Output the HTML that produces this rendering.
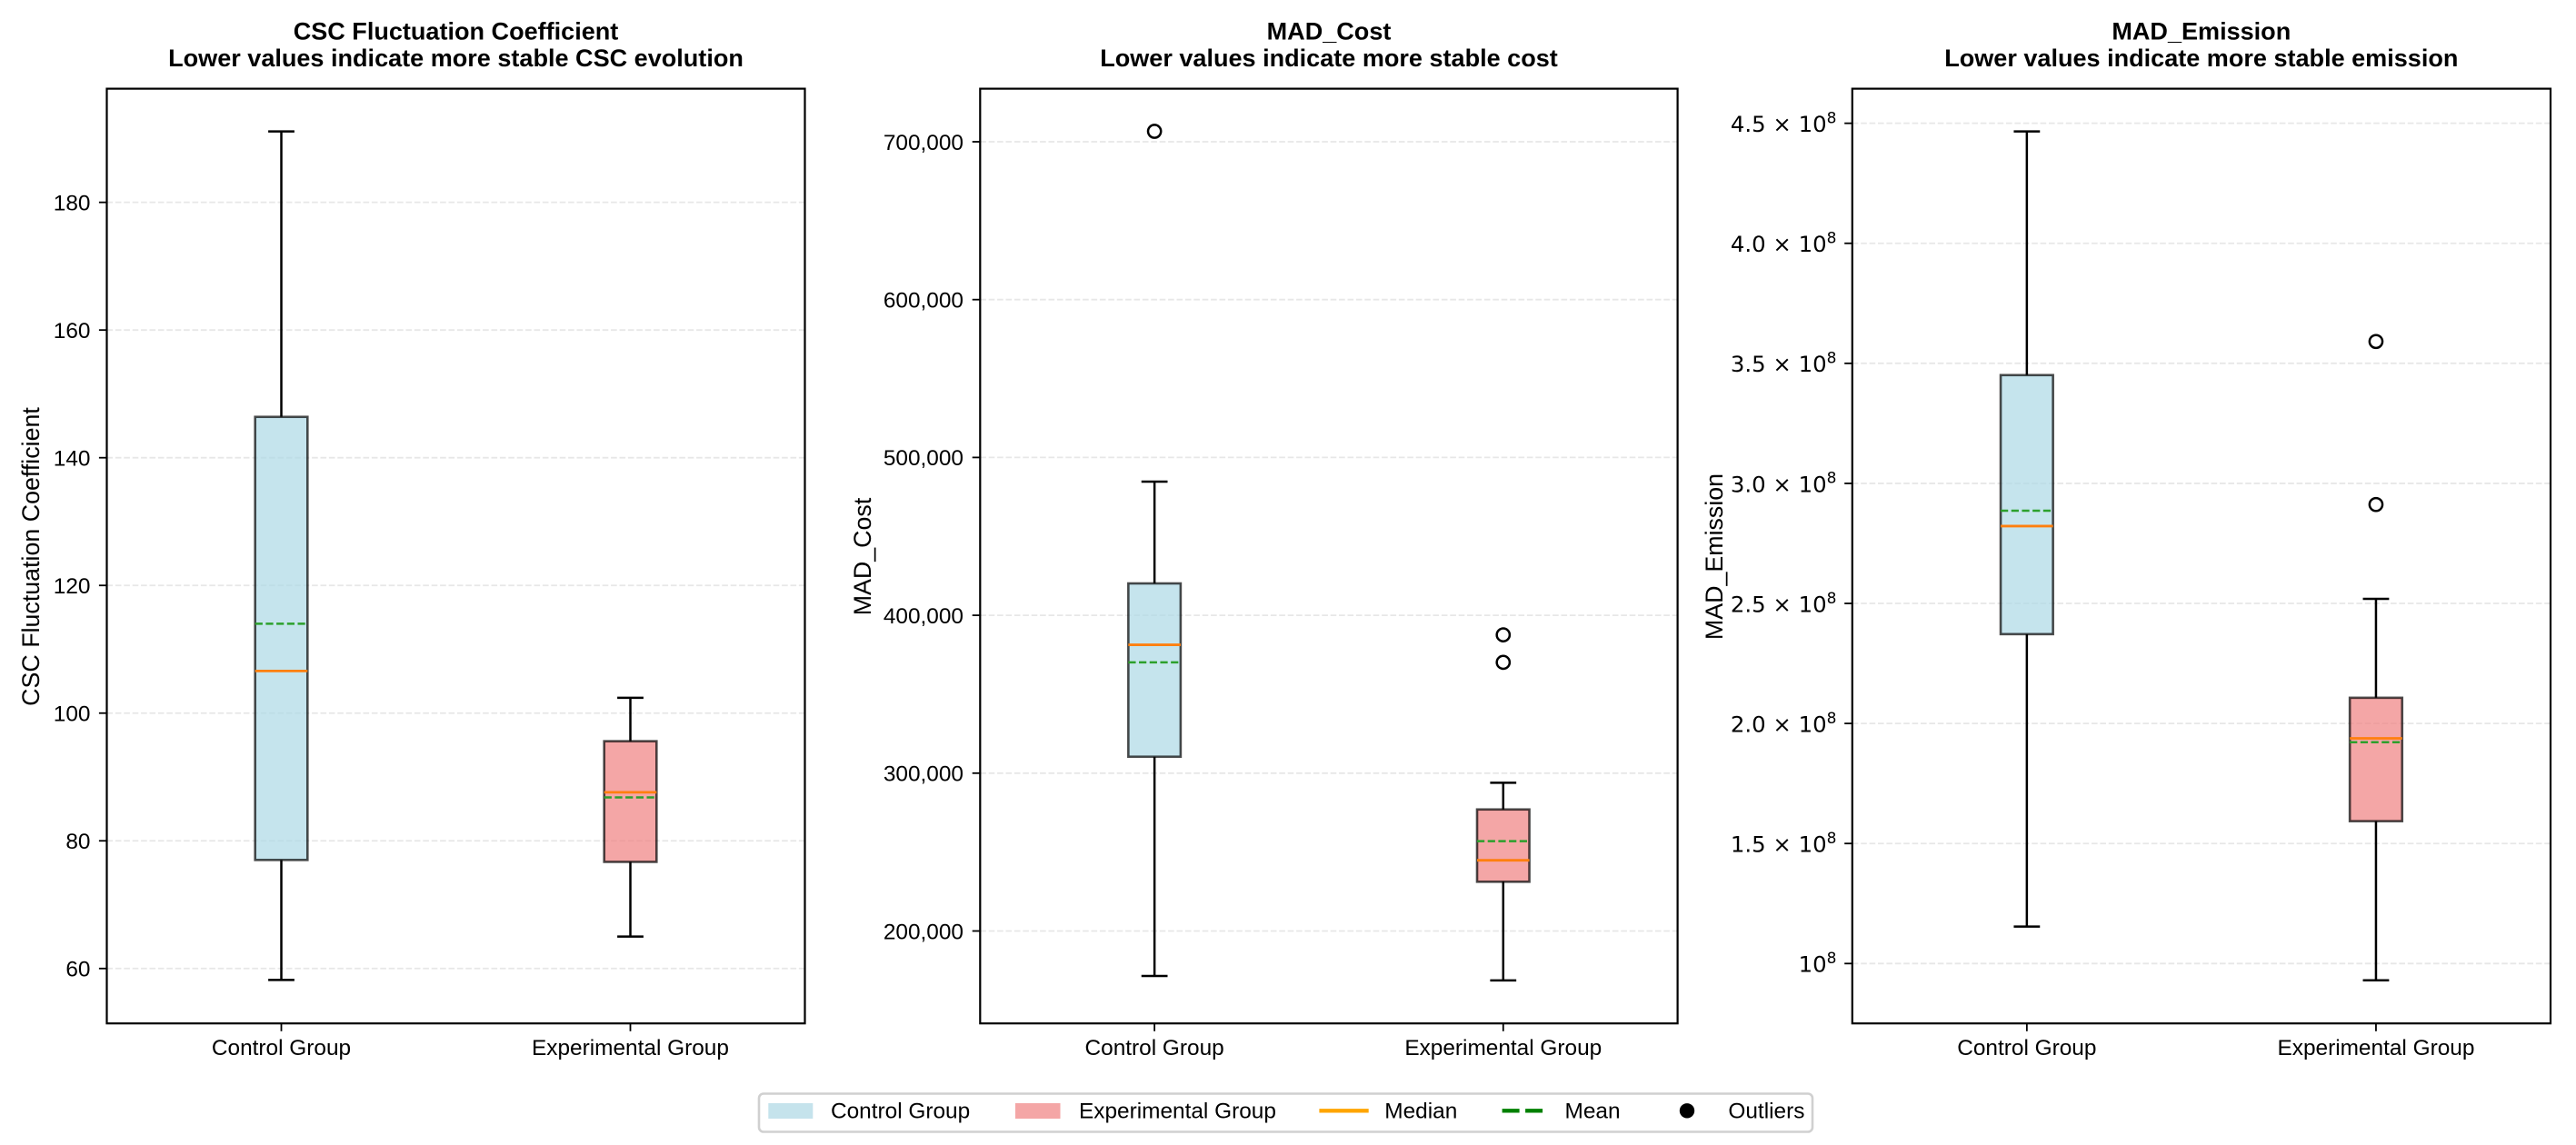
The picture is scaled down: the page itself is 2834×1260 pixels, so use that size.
<!DOCTYPE html>
<html lang="en">
<head>
<meta charset="utf-8">
<title>Stability Comparison: Control vs Experimental Group</title>
<style>
  html, body { margin: 0; padding: 0; background: #fff; }
  body { width: 2834px; height: 1260px; overflow: hidden; }
  svg { display: block; }
  text { font-family: "Liberation Sans", Arial, sans-serif; fill: #000; }
  .title { font-size: 27.05px; font-weight: bold; text-anchor: middle; }
  .ylabel { font-size: 26.8px; text-anchor: middle; }
  .tick { font-size: 24.4px; text-anchor: end; }
  .xtick { font-size: 24.4px; text-anchor: middle; }
  .sci { font-family: "DejaVu Sans", sans-serif; }
  .legend-text { font-size: 24.4px; }
</style>
</head>
<body>
<svg id="figure" width="2834" height="1260" viewBox="0 0 2834 1260" xmlns="http://www.w3.org/2000/svg">
  <rect width="2834" height="1260" fill="#ffffff"/>

  <g id="panel-csc">
    <text class="title" x="501.5" y="43.5">CSC Fluctuation Coefficient</text>
    <text class="title" x="501.5" y="73">Lower values indicate more stable CSC evolution</text>
    <text class="ylabel" transform="translate(43 612.5) rotate(-90)">CSC Fluctuation Coefficient</text>
  </g>
  <g id="panel-cost">
    <text class="title" x="1462" y="43.5">MAD_Cost</text>
    <text class="title" x="1462" y="73">Lower values indicate more stable cost</text>
    <text class="ylabel" transform="translate(958 612.5) rotate(-90)">MAD_Cost</text>
  </g>
  <g id="panel-emission">
    <text class="title" x="2421.8" y="43.5">MAD_Emission</text>
    <text class="title" x="2421.8" y="73">Lower values indicate more stable emission</text>
    <text class="ylabel" transform="translate(1895 612.5) rotate(-90)">MAD_Emission</text>
  </g>

  <g id="legend">
    <rect x="835" y="1203.5" width="1159" height="42" rx="5" ry="5" fill="#ffffff" stroke="#d0d0d0" stroke-width="2.6"/>
    <rect x="845.3" y="1214" width="49" height="17" fill="#c5e3ec"/>
    <text class="legend-text" x="914" y="1230.7">Control Group</text>
    <rect x="1117" y="1214" width="49.5" height="17" fill="#f4a6a6"/>
    <text class="legend-text" x="1187" y="1230.7">Experimental Group</text>
    <line x1="1451.4" x2="1505.7" y1="1222.3" y2="1222.3" stroke="#ffa500" stroke-width="4.4"/>
    <text class="legend-text" x="1523.3" y="1230.7">Median</text>
    <line x1="1652.6" x2="1697.5" y1="1222.3" y2="1222.3" stroke="#008000" stroke-width="4.4" stroke-dasharray="19 6.5"/>
    <text class="legend-text" x="1721.5" y="1230.7">Mean</text>
    <circle cx="1856" cy="1222.3" r="8.2" fill="#000000"/>
    <text class="legend-text" x="1901.4" y="1230.7">Outliers</text>
  </g>
</svg>

<script>
// ---- shared categories ----
const groupNames = ['Control Group', 'Experimental Group'];

// ---- CSC Fluctuation Coefficient ----
const cscTicks = [60, 80, 100, 120, 140, 160, 180];
const cscDomain = [51.4, 197.8];
// five-number summaries: whisker low, Q1, median, Q3, whisker high
const cscControlBox = [58.2, 77.0, 106.6, 146.4, 191.1];
const cscExperimentalBox = [65.0, 76.7, 87.6, 95.6, 102.4];
const cscMeans = [114.0, 86.8];
const cscControlOutliers = [];
const cscExperimentalOutliers = [];

// ---- MAD_Cost ----
const costTicks = [200000, 300000, 400000, 500000, 600000, 700000];
const costDomain = [141450, 733620];
const costControlBox = [171500, 310400, 381300, 420200, 484700];
const costExperimentalBox = [168700, 231200, 244800, 277000, 293900];
const costMeans = [370200, 256900];
const costControlOutliers = [706600];
const costExperimentalOutliers = [370200, 387600];

// ---- MAD_Emission ----
const emissionTicks = [1.0e8, 1.5e8, 2.0e8, 2.5e8, 3.0e8, 3.5e8, 4.0e8, 4.5e8];
const emissionDomain = [0.7506e8, 4.644e8];
const emissionControlBox = [1.154e8, 2.372e8, 2.822e8, 3.451e8, 4.466e8];
const emissionExperimentalBox = [0.930e8, 1.593e8, 1.938e8, 2.107e8, 2.519e8];
const emissionMeans = [2.886e8, 1.922e8];
const emissionControlOutliers = [];
const emissionExperimentalOutliers = [2.912e8, 3.591e8];

const SVG_NS = 'http://www.w3.org/2000/svg';
const PLOT_TOP = 97.6;
const PLOT_BOTTOM = 1126.2;
const BOX_WIDTH_UNITS = 0.15;
const CAP_WIDTH_UNITS = 0.075;

function make(parent, tag, attrs, text) {
  const el = document.createElementNS(SVG_NS, tag);
  for (const k in attrs) el.setAttribute(k, attrs[k]);
  if (text !== undefined) el.textContent = text;
  parent.appendChild(el);
  return el;
}

function plainLabel(v) { return String(v); }
function commaLabel(v) { return v.toLocaleString('en-US'); }

function drawSciLabel(parent, v, right, y) {
  const mant = v / 1e8;
  const t = make(parent, 'text', { class: 'tick sci', x: right, y: y + 9.4 });
  
  
  const prefix = Math.abs(mant - 1) < 1e-9 ? '10' : mant.toFixed(1) + ' \u00d7 10';
  make(t, 'tspan', {}, prefix);
  make(t, 'tspan', { dy: -9.6, 'font-size': 17 }, '8');
}

function drawPanel(panelId, left, right, domain, ticks, labelRight, labelFn, boxes, means, outliers, slug) {
  const root = document.getElementById(panelId);
  const width = right - left;
  const xScale = p => left + (p - 0.5) / 2 * width;
  const yScale = v => PLOT_BOTTOM - (v - domain[0]) / (domain[1] - domain[0]) * (PLOT_BOTTOM - PLOT_TOP);

  // grid lines + y ticks
  ticks.forEach(v => {
    const y = yScale(v);
    const grid = make(root, 'line', { x1: left, x2: right, y1: y, y2: y, stroke: '#e7e7e7', 'stroke-width': 1.8, 'stroke-dasharray': '6.6 2.8' });
    
    
    const tick = make(root, 'line', { x1: left - 8.6, x2: left, y1: y, y2: y, stroke: '#000', 'stroke-width': 1.8 });
    
    
    if (labelFn) {
      const lab = make(root, 'text', { class: 'tick', x: labelRight, y: y + 8.8 }, labelFn(v));
      
      
    } else {
      drawSciLabel(root, v, labelRight, y);
    }
  });

  // one box per group
  groupNames.forEach((name, i) => {
    const pos = i + 1;
    const cx = xScale(pos);
    const s = boxes[i];
    const bw = BOX_WIDTH_UNITS / 2 * width;
    const cw = CAP_WIDTH_UNITS / 2 * width;
    const fill = i === 0 ? 'lightblue' : 'lightcoral';

    const g = make(root, 'g', {});
    
    

    const whiskLow = make(g, 'line', { x1: cx, x2: cx, y1: yScale(s[0]), y2: yScale(s[1]), stroke: '#000', 'stroke-width': 2.5 });
    
    
    const whiskHigh = make(g, 'line', { x1: cx, x2: cx, y1: yScale(s[3]), y2: yScale(s[4]), stroke: '#000', 'stroke-width': 2.5 });
    
    
    const capLow = make(g, 'line', { x1: cx - cw / 2, x2: cx + cw / 2, y1: yScale(s[0]), y2: yScale(s[0]), stroke: '#000', 'stroke-width': 2.5 });
    
    
    const capHigh = make(g, 'line', { x1: cx - cw / 2, x2: cx + cw / 2, y1: yScale(s[4]), y2: yScale(s[4]), stroke: '#000', 'stroke-width': 2.5 });
    
    

    const box = make(g, 'rect', {
      x: cx - bw / 2, y: yScale(s[3]), width: bw, height: yScale(s[1]) - yScale(s[3]),
      fill: fill, 'fill-opacity': 0.7, stroke: '#000', 'stroke-opacity': 0.7, 'stroke-width': 2.6
    });
    
    

    const median = make(g, 'line', { x1: cx - bw / 2, x2: cx + bw / 2, y1: yScale(s[2]), y2: yScale(s[2]), stroke: '#ff7f0e', 'stroke-width': 2.8 });
    
    
    const mean = make(g, 'line', { x1: cx - bw / 2, x2: cx + bw / 2, y1: yScale(means[i]), y2: yScale(means[i]), stroke: '#2ca02c', 'stroke-width': 2.5, 'stroke-dasharray': '8.2 3.5' });
    
    

    outliers[i].forEach(v => {
      const dot = make(g, 'circle', { cx: cx, cy: yScale(v), r: 7.1, fill: 'none', stroke: '#000', 'stroke-width': 2.5 });
      
      
    });

    const xTick = make(root, 'line', { x1: cx, x2: cx, y1: PLOT_BOTTOM, y2: PLOT_BOTTOM + 8.6, stroke: '#000', 'stroke-width': 1.8 });
    
    
    const xLab = make(root, 'text', { class: 'xtick', x: cx, y: 1161 }, name);
    
    
  });

  // axes frame
  const frame = make(root, 'rect', { x: left, y: PLOT_TOP, width: width, height: PLOT_BOTTOM - PLOT_TOP, fill: 'none', stroke: '#000', 'stroke-width': 2.2 });
  
  
}

drawPanel('panel-csc', 117.5, 885.5, cscDomain, cscTicks, 99.5, plainLabel,
  [cscControlBox, cscExperimentalBox], cscMeans, [cscControlOutliers, cscExperimentalOutliers], 'csc');
drawPanel('panel-cost', 1078.3, 1845.6, costDomain, costTicks, 1060, commaLabel,
  [costControlBox, costExperimentalBox], costMeans, [costControlOutliers, costExperimentalOutliers], 'cost');
drawPanel('panel-emission', 2037.8, 2806, emissionDomain, emissionTicks, 2020.5, null,
  [emissionControlBox, emissionExperimentalBox], emissionMeans, [emissionControlOutliers, emissionExperimentalOutliers], 'emission');
</script>
</body>
</html>
